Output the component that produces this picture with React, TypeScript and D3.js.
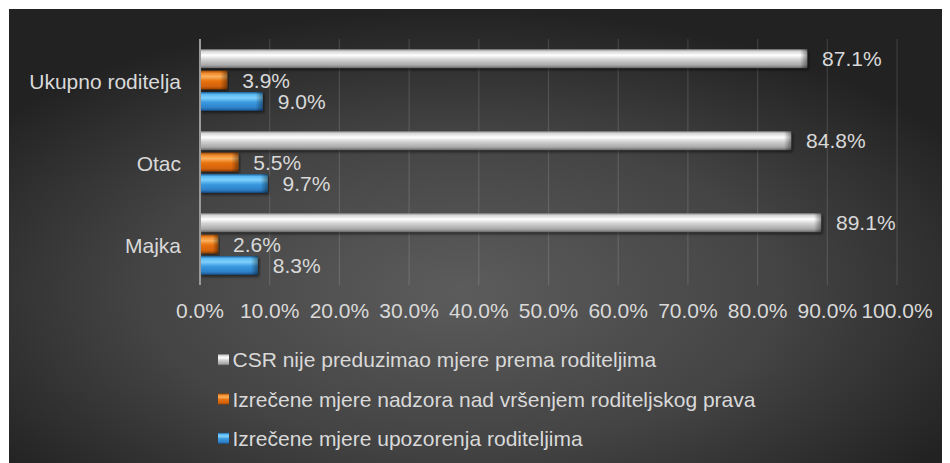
import React from "react";
import * as d3 from "d3";

const categories = ["Ukupno roditelja", "Otac", "Majka"];
const seriesNames = [
  "CSR nije preduzimao mjere prema roditeljima",
  "Izrečene mjere nadzora nad vršenjem roditeljskog prava",
  "Izrečene mjere upozorenja roditeljima",
];
const seriesKeys = ["gray", "orange", "blue"];
// values per category (same order as categories), in percent
const csrValues = [87.1, 84.8, 89.1];
const nadzorValues = [3.9, 5.5, 2.6];
const upozorenjeValues = [9.0, 9.7, 8.3];
const xTicks = [0, 10, 20, 30, 40, 50, 60, 70, 80, 90, 100];

const seriesValues = [csrValues, nadzorValues, upozorenjeValues];

const W = 942;
const H = 455;
const FONT = "'Liberation Sans', Arial, sans-serif";
const TXT = "#d9d9d9";

export default function App() {
  const ox = -8; // svg is placed at page (8,8)
  const oy = -8;
  const x = d3.scaleLinear().domain([0, 100]).range([200 + ox, 897 + ox]);
  const y0 = d3
    .scaleBand<string>()
    .domain(categories)
    .range([39 + oy, 285 + oy])
    .paddingInner(0.25)
    .paddingOuter(0.125);
  const y1 = d3
    .scaleBand<string>()
    .domain(seriesKeys)
    .range([0, y0.bandwidth()])
    .paddingInner(0.12)
    .paddingOuter(0);
  const fmt = (v: number) => d3.format(".1f")(v) + "%";

  const plotTop = 39 + oy;
  const plotBottom = 285 + oy;

  return (
    <svg width={W} height={H} style={{ display: "block" }} fontFamily={FONT}>
      <defs>
        <radialGradient id="bg" cx="48%" cy="62%" r="62%" fx="48%" fy="62%">
          <stop offset="0%" stopColor="#5c5c5c" />
          <stop offset="55%" stopColor="#444444" />
          <stop offset="100%" stopColor="#222222" />
        </radialGradient>
        <linearGradient id="g-gray" x1="0" y1="0" x2="0" y2="1">
          <stop offset="0%" stopColor="#8a8a8a" />
          <stop offset="12%" stopColor="#d8d8d8" />
          <stop offset="32%" stopColor="#ffffff" />
          <stop offset="55%" stopColor="#d2d2d2" />
          <stop offset="85%" stopColor="#a8a8a8" />
          <stop offset="100%" stopColor="#6a6a6a" />
        </linearGradient>
        <linearGradient id="g-orange" x1="0" y1="0" x2="0" y2="1">
          <stop offset="0%" stopColor="#9c4705" />
          <stop offset="14%" stopColor="#f08a2a" />
          <stop offset="32%" stopColor="#fab15e" />
          <stop offset="55%" stopColor="#e8720f" />
          <stop offset="85%" stopColor="#d2620a" />
          <stop offset="100%" stopColor="#8f4104" />
        </linearGradient>
        <linearGradient id="g-blue" x1="0" y1="0" x2="0" y2="1">
          <stop offset="0%" stopColor="#1c5a92" />
          <stop offset="14%" stopColor="#5cbcf4" />
          <stop offset="32%" stopColor="#7fd0fb" />
          <stop offset="55%" stopColor="#3a9ae0" />
          <stop offset="85%" stopColor="#2d80c8" />
          <stop offset="100%" stopColor="#18508a" />
        </linearGradient>
        <linearGradient id="bevel" x1="0" y1="0" x2="1" y2="0">
          <stop offset="0%" stopColor="#000" stopOpacity="0" />
          <stop offset="100%" stopColor="#000" stopOpacity="0.4" />
        </linearGradient>
        <filter id="shadow" x="-5%" y="-30%" width="110%" height="170%">
          <feDropShadow dx="1.5" dy="2" stdDeviation="1.5" floodColor="#000" floodOpacity="0.55" />
        </filter>
      </defs>

      <rect x={1} y={1} width={W - 1} height={H - 1} fill="url(#bg)" />

      {/* gridlines */}
      {xTicks.slice(1).map((t) => (
        <line
          key={"g" + t}
          x1={x(t)}
          x2={x(t)}
          y1={plotTop}
          y2={plotBottom}
          stroke="#ffffff"
          strokeOpacity={0.13}
          strokeWidth={1.2}
        />
      ))}

      {/* bars */}
      {categories.map((c, ci) => (
        <g key={c} transform={`translate(0,${y0(c)})`}>
          {seriesKeys.map((k, si) => {
            const v = seriesValues[si][ci];
            const by = y1(k) as number;
            const bh = y1.bandwidth();
            const x0 = x(0);
            const w = x(v) - x0;
            return (
              <g key={k}>
                <g filter="url(#shadow)">
                  <rect x={x0} y={by} width={w} height={bh} fill={`url(#g-${k})`} />
                </g>
                <rect
                  x={x0 + w - Math.min(7, w * 0.3)}
                  y={by}
                  width={Math.min(7, w * 0.3)}
                  height={bh}
                  fill="url(#bevel)"
                />
                <text
                  x={x(v) + 15}
                  y={by + bh / 2}
                  dy="0.36em"
                  fontSize={21}
                  fill={TXT}
                >
                  {fmt(v)}
                </text>
              </g>
            );
          })}
          <text
            x={181 + ox}
            y={y0.bandwidth() / 2 + 1}
            dy="0.36em"
            textAnchor="end"
            fontSize={21}
            fill={TXT}
          >
            {c}
          </text>
        </g>
      ))}

      {/* axis line */}
      <line
        x1={x(0)}
        x2={x(0)}
        y1={plotTop}
        y2={plotBottom}
        stroke="#9a9a9a"
        strokeWidth={2}
      />

      {/* x tick labels */}
      {xTicks.map((t) => (
        <text
          key={"t" + t}
          x={x(t)}
          y={318 + oy}
          textAnchor="middle"
          fontSize={21}
          fill={TXT}
        >
          {fmt(t)}
        </text>
      ))}

      {/* legend */}
      {seriesNames.map((n, i) => {
        const cy = 359.7 + i * 39.3 + oy;
        return (
          <g key={n}>
            <rect
              x={218 + ox}
              y={cy - 5.5}
              width={11}
              height={11}
              fill={`url(#g-${seriesKeys[i]})`}
            />
            <text x={232.5 + ox} y={cy} dy="0.36em" fontSize={21} fill={TXT}>
              {n}
            </text>
          </g>
        );
      })}
    </svg>
  );
}
